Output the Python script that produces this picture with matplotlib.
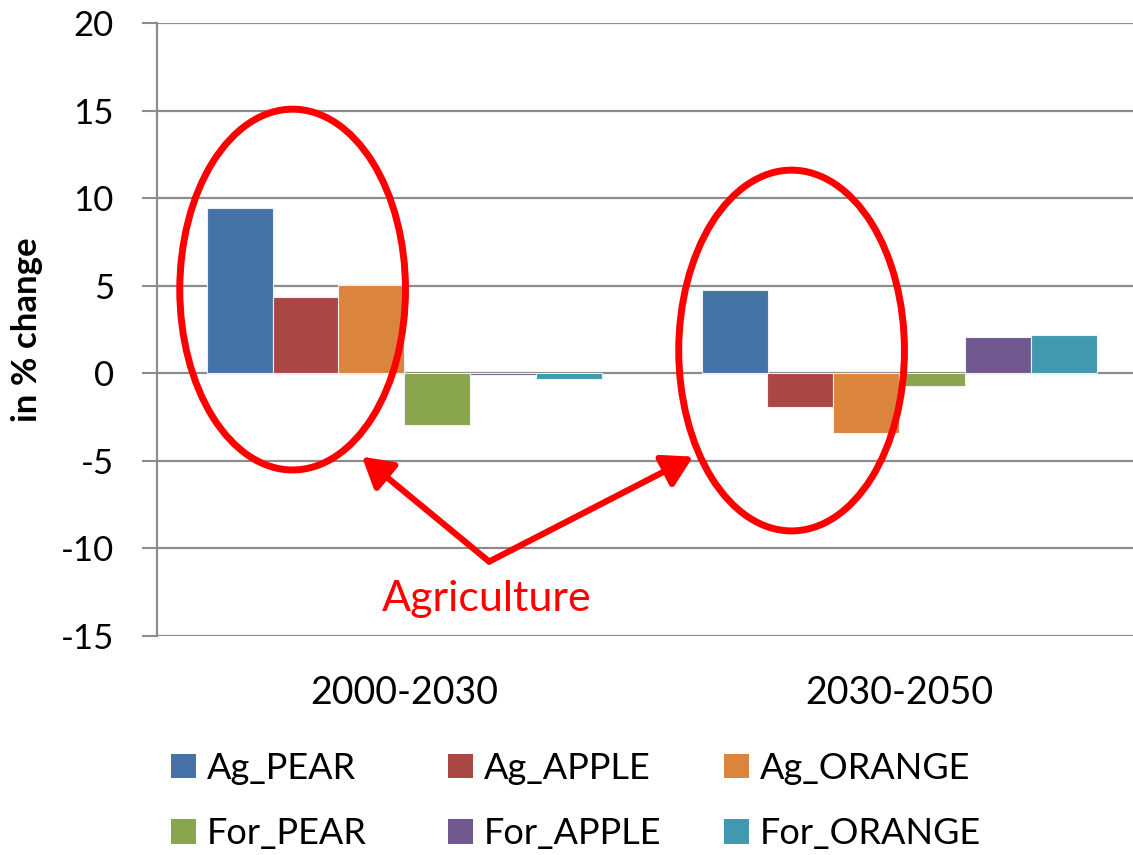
import numpy as np
import matplotlib
matplotlib.use("Agg")
import matplotlib.pyplot as plt
from matplotlib.patches import Ellipse, Patch

# data
periods = ["2000-2030", "2030-2050"]
series = ["Ag_PEAR", "Ag_APPLE", "Ag_ORANGE", "For_PEAR", "For_APPLE", "For_ORANGE"]
ag_pear = [9.46, 4.74]
ag_apple = [4.36, -1.9]
ag_orange = [5.03, -3.4]
for_pear = [-2.97, -0.7]
for_apple = [-0.1, 2.06]
for_orange = [-0.3, 2.19]
values = [ag_pear, ag_apple, ag_orange, for_pear, for_apple, for_orange]
colors = ["#4572A7", "#AA4643", "#DB843D", "#89A54E", "#71588F", "#4198AF"]
yticks = [-15, -10, -5, 0, 5, 10, 15, 20]

plt.rcParams["font.family"] = ["Lato", "DejaVu Sans"]

fig = plt.figure(figsize=(11.33, 8.55), dpi=100)
# axes run past the right edge like the cropped original
ax = fig.add_axes([157 / 1133, 1 - 636 / 855, 990 / 1133, 613 / 855])

x = np.arange(len(periods))
w = 0.8 / len(series)
for i, (vals, col) in enumerate(zip(values, colors)):
    ax.bar(x + (i - 2.5) * w, vals, width=w, color=col, edgecolor="#f0f0f0",
           linewidth=0.8, label=series[i], zorder=3)

ax.set_xlim(-0.5, 1.5)
ax.set_ylim(-15, 20)
ax.set_yticks(yticks)
ax.set_yticklabels([str(t) for t in yticks], fontsize=25)
ax.set_xticks(x)
ax.set_xticklabels(periods, fontsize=27)
ax.tick_params(axis="x", length=0, pad=28)
ax.tick_params(axis="y", length=11, width=1.5, color="#8c8c8c", pad=20)
ax.yaxis.grid(True, color="#8c8c8c", linewidth=1.6, zorder=0)
ax.set_axisbelow(True)
for s in ["top", "right", "bottom"]:
    ax.spines[s].set_visible(False)
ax.spines["left"].set_color("#8c8c8c")
ax.spines["left"].set_linewidth(1.6)
ax.set_ylabel("in % change", fontsize=25, fontweight="bold")
ax.yaxis.set_label_coords(-0.115, 0.5)

# red annotations
for cx, cy in [(-0.226, 4.78), (0.782, 1.30)]:
    ax.add_patch(Ellipse((cx, cy), 0.456, 20.6, fill=False, edgecolor="red",
                         linewidth=5, zorder=5))
for hx in [-0.086, 0.583]:
    ax.annotate("", xy=(hx, -4.76), xytext=(0.171, -10.75),
                arrowprops=dict(arrowstyle="-|>,head_length=0.6,head_width=0.35",
                                color="red", lw=4.5, mutation_scale=30,
                                shrinkA=0, shrinkB=0), zorder=5)
ax.text(0.167, -12.9, "Agriculture", color="red", fontsize=31,
        ha="center", va="center", zorder=5)

# legend: one small legend per column so the columns sit evenly spaced
handles = [Patch(facecolor=c, edgecolor="none") for c in colors]
col_x = [157, 434, 710]
for k in range(3):
    leg = fig.legend([handles[k], handles[k + 3]], [series[k], series[k + 3]],
                     loc="center left", bbox_to_anchor=(col_x[k] / 1133, 1 - 801 / 855),
                     frameon=False, fontsize=26, handlelength=0.68, handleheight=0.68,
                     handletextpad=0.3, labelspacing=0.9, borderaxespad=0)

fig.savefig("out.png", dpi=100)
